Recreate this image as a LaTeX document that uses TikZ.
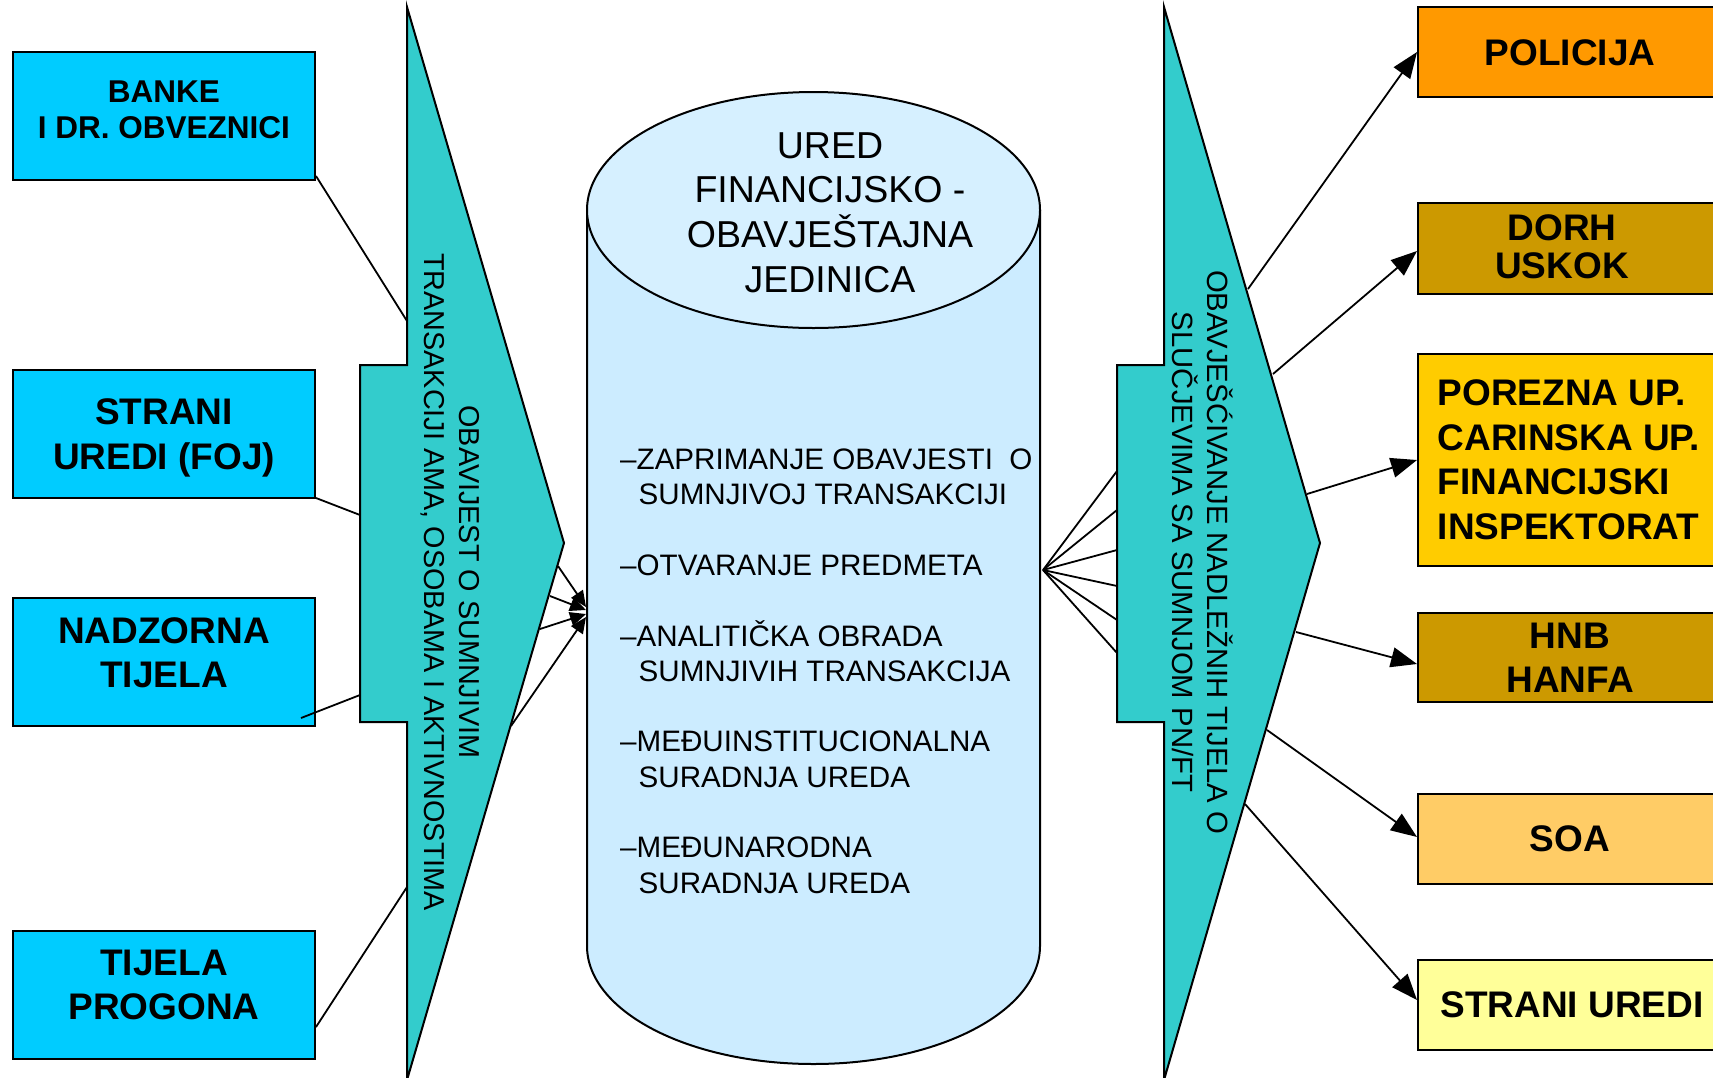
\documentclass[tikz,border=0pt]{standalone}
\usepackage{fontspec}
\setmainfont{Liberation Sans}
\usetikzlibrary{arrows.meta,calc}
\definecolor{boxcyan}{HTML}{00CCFF}
\definecolor{shapeteal}{HTML}{33CCCC}
\definecolor{cylbody}{RGB}{204,236,255}
\definecolor{cyltop}{RGB}{214,240,255}
\definecolor{cpolicija}{HTML}{FF9900}
\definecolor{cdorh}{HTML}{CC9900}
\definecolor{cporezna}{HTML}{FFCC00}
\definecolor{csoa}{HTML}{FFCC66}
\definecolor{cstrani}{HTML}{FFFF99}
\tikzset{
  lbox/.style={draw=black, line width=2pt, fill=boxcyan, minimum width=302pt, minimum height=128pt, inner sep=0pt},
  rbox/.style={draw=black, line width=2pt, minimum width=304pt, minimum height=90pt, inner sep=0pt},
  btxt/.style={font=\bfseries\fontsize{37}{44.5}\selectfont, align=center, inner sep=0pt},
  ctitle/.style={font=\fontsize{37.5}{44.8}\selectfont, align=center, inner sep=0pt},
  bullet/.style={font=\fontsize{29.6}{35}\selectfont, anchor=base west, inner sep=0pt},
  vtxt/.style={font=\fontsize{28.8}{35}\selectfont, align=center, rotate=-90, inner sep=0pt},
  shapestyle/.style={draw=black, line width=2pt, fill=shapeteal, line join=miter},
  conn/.style={line width=1.8pt},
  outarrow/.style={conn, -{Triangle[length=26pt,width=20pt]}},
  inarrow/.style={conn, -{Triangle[length=16pt,width=14pt]}}
}
\begin{document}
\begin{tikzpicture}[x=1pt,y=-1pt]
\useasboundingbox (0,0) rectangle (1713,1077);

% ---- left boxes
\node[lbox] (b1) at (164,116) {};
\node[lbox] (b2) at (164,434) {};
\node[lbox] (b3) at (164,661.5) {};
\node[lbox] (b4) at (164,994.5) {};
\node[btxt, font=\bfseries\fontsize{31.5}{36}\selectfont] (b1t) at (164,110) {BANKE\\I DR. OBVEZNICI};
\node[btxt] (b2t) at (164,438) {STRANI\\UREDI (FOJ)};
\node[btxt, font=\bfseries\fontsize{37}{43.6}\selectfont] (b3t) at (164,653) {NADZORNA\\TIJELA};
\node[btxt, font=\bfseries\fontsize{37}{43.6}\selectfont] (b4t) at (164,985) {TIJELA\\PROGONA};

% ---- left arrow shape
\draw[shapestyle] (407,7) -- (564,543) -- (407,1080) -- (407,722) -- (360,722) -- (360,365) -- (407,365) -- cycle;
\node[vtxt] (lt) at (450.5,582) {OBAVIJEST O SUMNJIVIM\\TRANSAKCIJI AMA, OSOBAMA I AKTIVNOSTIMA};

% ---- right arrow shape
\draw[shapestyle] (1164,7) -- (1320,543) -- (1164,1080) -- (1164,722) -- (1117,722) -- (1117,365) -- (1164,365) -- cycle;
\node[vtxt, font=\fontsize{29.3}{35}\selectfont] (rt) at (1202.5,552) {OBAVJEŠĆIVANJE NADLEŽNIH TIJELA O\\SLUČJEVIMA SA SUMNJOM PN/FT};

% ---- cylinder
\fill[cylbody] (587,210) -- (587,946) arc[start angle=180, end angle=0, x radius=226.5, y radius=118] -- (1040,210) -- cycle;
\draw[line width=2pt] (587,210) -- (587,946) arc[start angle=180, end angle=0, x radius=226.5, y radius=118] -- (1040,210);
\draw[line width=2pt, fill=cyltop] (813.5,210) ellipse [x radius=226.5, y radius=118];
\node[ctitle] (title) at (830,212.5) {URED\\FINANCIJSKO -\\OBAVJEŠTAJNA\\JEDINICA};

\node[bullet] (l1) at (620,469.3) {–ZAPRIMANJE OBAVJESTI\ \ O};
\node[bullet] (l2) at (638.5,504.3) {SUMNJIVOJ TRANSAKCIJI};
\node[bullet] (l3) at (620,575.3) {–OTVARANJE PREDMETA};
\node[bullet] (l4) at (620,646.3) {–ANALITIČKA OBRADA};
\node[bullet] (l5) at (638.5,681.2) {SUMNJIVIH TRANSAKCIJA};
\node[bullet] (l6) at (620,751.1) {–MEĐUINSTITUCIONALNA};
\node[bullet] (l7) at (638.5,787.2) {SURADNJA UREDA};
\node[bullet] (l8) at (620,857.1) {–MEĐUNARODNA};
\node[bullet] (l9) at (638.5,893.2) {SURADNJA UREDA};

% ---- right boxes
\node[rbox, fill=cpolicija] (p1) at (1570,52) {};
\node[rbox, fill=cdorh, minimum height=91pt] (p2) at (1570,248.5) {};
\node[rbox, fill=cporezna, minimum height=212pt] (p3) at (1570,460) {};
\node[rbox, fill=cdorh, minimum height=89pt] (p4) at (1570,657.5) {};
\node[rbox, fill=csoa] (p5) at (1570,839) {};
\node[rbox, fill=cstrani] (p6) at (1570,1005) {};
\node[btxt] (p1t) at (1570,52.4) {POLICIJA};
\node[btxt, font=\bfseries\fontsize{37}{37.5}\selectfont] (p2t) at (1562,247) {DORH\\USKOK};
\node[btxt, align=left, anchor=west] (p3t) at (1437.5,460) {POREZNA UP.\\CARINSKA UP.\\FINANCIJSKI\\INSPEKTORAT};
\node[btxt, font=\bfseries\fontsize{37}{43.5}\selectfont] (p4t) at (1570,658) {HNB\\HANFA};
\node[btxt] (p5t) at (1570,839) {SOA};
\node[btxt] (p6t) at (1572,1005) {STRANI UREDI};

% ---- coordinates on shape edges
\coordinate (le1) at (407,321);
\coordinate (le2) at (360,515);
\coordinate (le3) at (360,695);
\coordinate (le4) at (407,887);
\coordinate (lsa) at (558,566);
\coordinate (lsb) at (550,596);
\coordinate (lsc) at (540,629);
\coordinate (lsd) at (511,726);
\coordinate (cia) at (586,607);
\coordinate (cib) at (586,610);
\coordinate (cic) at (586,614);
\coordinate (cid) at (586,617);
\coordinate (fo) at (1043,570);
\coordinate (rf1) at (1117,471);
\coordinate (rf2) at (1117,510);
\coordinate (rf3) at (1117,550);
\coordinate (rf4) at (1117,586);
\coordinate (rf5) at (1117,620);
\coordinate (rf6) at (1117,653);
\coordinate (ro1) at (1248,289);
\coordinate (ro2) at (1273,374);
\coordinate (ro3) at (1307,494);
\coordinate (ro4) at (1296,632);
\coordinate (ro5) at (1267,730);
\coordinate (ro6) at (1245,804);

% ---- connectors: boxes to left shape
\draw[conn] ($(b1.south east)+(0,-5)$) -- (le1);
\draw[conn] ($(b2.south east)+(0,-1)$) -- (le2);
\draw[conn] ($(b3.east)+(-15,56.5)$) -- (le3);
\draw[conn] ($(b4.east)+(0,32.5)$) -- (le4);

% ---- left shape into cylinder
\draw[inarrow] (lsa) -- (cia);
\draw[inarrow] (lsb) -- (cib);
\draw[inarrow] (lsc) -- (cic);
\draw[inarrow] (lsd) -- (cid);

% ---- cylinder to right shape
\foreach \i in {1,...,6} { \draw[conn] (fo) -- (rf\i); }

% ---- right shape to boxes
\draw[outarrow] (ro1) -- (p1.west);
\draw[outarrow] (ro2) -- ($(p2.west)+(0,2.5)$);
\draw[outarrow] (ro3) -- (p3.west);
\draw[outarrow] (ro4) -- ($(p4.west)+(0,6.5)$);
\draw[outarrow] (ro5) -- ($(p5.west)+(0,-2)$);
\draw[outarrow] (ro6) -- ($(p6.west)+(0,-5)$);
\end{tikzpicture}
\end{document}
